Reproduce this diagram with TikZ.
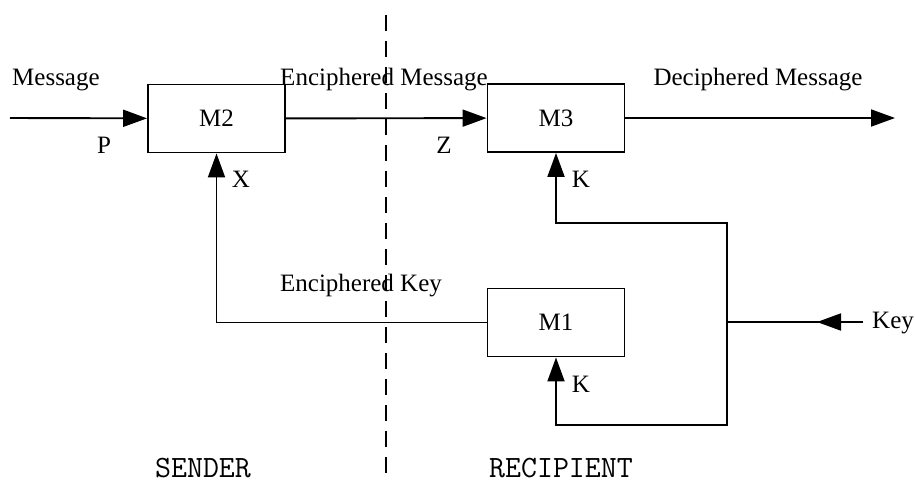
\documentclass[tikz,border=0pt]{standalone}
\usepackage{fontspec}
\setmainfont{Liberation Serif}
\usetikzlibrary{arrows.meta}

\begin{document}
\begin{tikzpicture}[
  x=1pt,y=-1pt,
  block/.style={draw,line width=1.9pt,minimum width=137pt,minimum height=68pt,inner sep=0pt,font=\fontsize{25}{29}\selectfont},
  wire/.style={line width=1.9pt},
  arrow/.style={wire,-{Triangle[length=24pt,width=17pt]}},
  divider/.style={line width=1.7pt,dash pattern=on 16pt off 10pt},
  lbl/.style={anchor=base,inner sep=0pt,font=\fontsize{25}{29}\selectfont},
  side/.style={anchor=base,inner sep=0pt,font=\ttfamily\fontsize{31}{35}\selectfont}
]
  \useasboundingbox (0,0) rectangle (915,483);

  % boxes
  \node[block] (m2) at (216.5,118.5) {M2};
  \node[block] (m3) at (556,118) {M3};
  \node[block] (m1) at (556,322.5) {M1};

  % free ends and bends
  \coordinate (msgin) at (10,118);
  \coordinate (msgout) at (895,118);
  \coordinate (keyin) at (863,322);
  \coordinate (keytip) at (817,322);
  \coordinate (split) at (727,322);
  \coordinate (kup) at (727,223);
  \coordinate (kdn) at (727,425);
  \coordinate (top) at (386,15);
  \coordinate (bot) at (386,473);

  % sender / recipient split
  \draw[divider] (top) -- (bot);

  % message path
  \draw[arrow] (msgin) -- (m2);
  \draw[arrow] (m2) -- (m3);
  \draw[arrow] (m3) -- (msgout);

  % key path
  \draw[wire] (keyin) -- (split);
  \draw[arrow] (keyin) -- (keytip);
  \draw[arrow] (split) -- (kup) -| (m3);
  \draw[arrow] (split) -- (kdn) -| (m1);
  \draw[arrow] (m1) -| (m2);

  % labels
  \node[lbl,anchor=base west] (lmsg) at (12,85) {Message};
  \node[lbl] (lenc) at (384,85) {Enciphered Message};
  \node[lbl] (ldec) at (758,85) {Deciphered Message};
  \node[lbl] (lp) at (104,153) {P};
  \node[lbl] (lz) at (444,153) {Z};
  \node[lbl] (lx) at (241,187) {X};
  \node[lbl] (lk1) at (581,187) {K};
  \node[lbl] (lk2) at (581,392) {K};
  \node[lbl] (lkey) at (361,291) {Enciphered Key};
  \node[lbl,anchor=base west] (lkin) at (872,328) {Key};
  \node[side] (lsend) at (203,477) {SENDER};
  \node[side] (lrec) at (561,477) {RECIPIENT};
\end{tikzpicture}
\end{document}
